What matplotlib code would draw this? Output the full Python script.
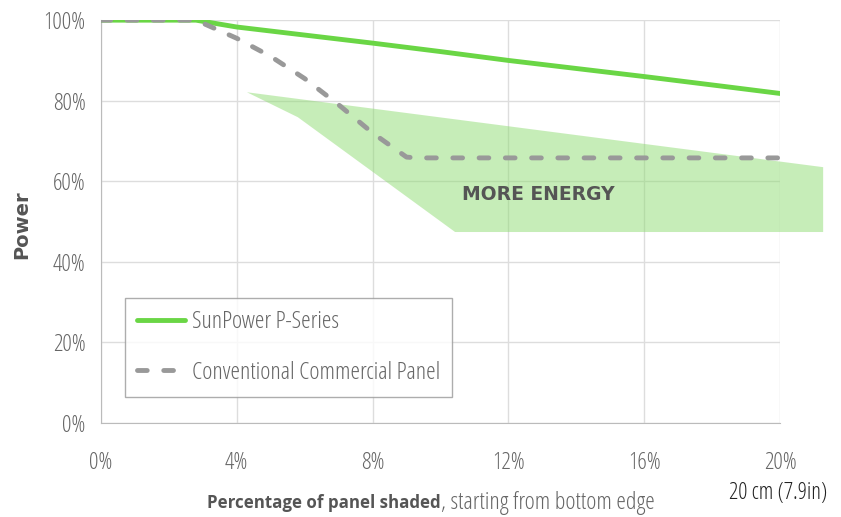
import matplotlib.pyplot as plt
from matplotlib.patches import Polygon
from matplotlib.ticker import FuncFormatter

# shading percentage vs relative power
sp_x = [0, 2.8, 4, 6, 8, 10, 12, 14, 16, 18.3, 20]
sp_y = [100, 100, 98.3, 96.3, 94.3, 92.2, 90, 88, 86, 83.6, 81.8]

conv_x = [0, 2.8, 3.2, 4, 5, 6, 7, 8, 9, 9.3, 20]
conv_y = [100, 100, 98.5, 95.5, 91, 85.5, 79, 72, 66, 65.8, 65.8]

# "more energy" band corners
band_x = [4.3, 5.8, 10.43, 21.27, 21.27]
band_y = [82.1, 75.9, 47.4, 47.4, 63.5]

xticks = [0, 4, 8, 12, 16, 20]
yticks = [0, 20, 40, 60, 80, 100]

narrow = dict(family='Open Sans', stretch='condensed')
tick_col = '#666666'

fig = plt.figure(figsize=(8.41, 5.17), dpi=100)
ax = fig.add_axes([0.120, 0.182, 0.8075, 0.779])

ax.set_xlim(0, 20)
ax.set_ylim(0, 100)
ax.set_xticks(xticks)
ax.set_yticks(yticks)
ax.xaxis.set_major_formatter(FuncFormatter(lambda v, p: '%d%%' % v))
ax.yaxis.set_major_formatter(FuncFormatter(lambda v, p: '%d%%' % v))
ax.grid(True, color='#dddddd', lw=1)
ax.set_axisbelow(True)
for s in ['top', 'right']:
    ax.spines[s].set_visible(False)
for s in ['left', 'bottom']:
    ax.spines[s].set_color('#bbbbbb')
ax.tick_params(length=0, colors=tick_col, labelsize=17, pad=11)
ax.tick_params(axis='x', pad=20)
for lab in ax.get_xticklabels() + ax.get_yticklabels():
    lab.set_family('Open Sans')
    lab.set_stretch('condensed')

band = Polygon(list(zip(band_x, band_y)), closed=True, facecolor='#8fdc73',
               alpha=0.5, edgecolor='none', clip_on=False, zorder=1)
ax.add_patch(band)

ax.plot(sp_x, sp_y, color='#6ad645', lw=3.5, solid_capstyle='round',
        label='SunPower P-Series', zorder=3)
ax.plot(conv_x, conv_y, color='#999999', lw=3.5, dashes=(2.0, 3.4),
        dash_capstyle='round', label='Conventional Commercial Panel', zorder=4)

ax.text(10.64, 56.6, 'MORE ENERGY', family='DejaVu Sans', weight='bold',
        fontsize=13.5, color='#555555', va='center', ha='left', zorder=5)

leg = ax.legend(loc='lower left', bbox_to_anchor=(0.035, 0.0645), frameon=True,
                fancybox=False, borderpad=0.5, labelspacing=1.1,
                handlelength=2.0, handletextpad=0.25, borderaxespad=0,
                prop=dict(size=17.5, **narrow))
leg.get_frame().set_edgecolor('#999999')
leg.get_frame().set_linewidth(1)
for t in leg.get_texts():
    t.set_color('#666666')

fig.text(0.026, 0.565, 'Power', rotation=90, family='DejaVu Sans', weight='bold',
         fontsize=14, color='#555555', ha='center', va='center')

fig.text(0.524, 0.027, 'Percentage of panel shaded', weight='bold',
         fontsize=12.2, color='#555555', ha='right', va='center', **narrow)
fig.text(0.524, 0.027, ', starting from bottom edge',
         fontsize=17.5, color='#666666', ha='left', va='center', **narrow)
fig.text(0.925, 0.046, '20 cm (7.9in)', fontsize=16.5,
         color='#222222', ha='center', va='center', **narrow)

fig.savefig('out.png', dpi=100)
